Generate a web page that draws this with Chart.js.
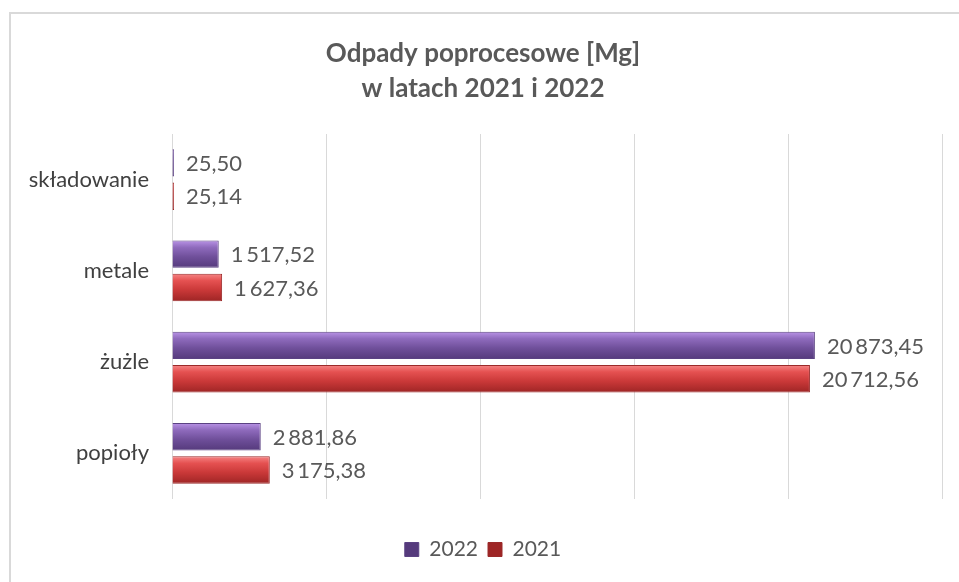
<!DOCTYPE html>
<html>
<head>
<meta charset="utf-8">
<script src="https://cdn.jsdelivr.net/npm/chart.js@4"></script>
<style>
  html, body { margin: 0; padding: 0; background: #fff; overflow: hidden; }
  #frame { position: absolute; left: 9px; top: 12px; width: 960px; height: 580px; border: 2px solid #d9d9d9; box-sizing: border-box; }
  #wrap { position: absolute; left: 0; top: 0; width: 959px; height: 582px; }
</style>
</head>
<body>
<div id="frame"></div>
<div id="wrap"><canvas id="wykres"></canvas></div>
<script>
// kategorie odpadow i wartosci [Mg]
const kategorie = ['składowanie', 'metale', 'żużle', 'popioły'];
const lata = ['2022', '2021'];
const wartosci2022 = [25.50, 1517.52, 20873.45, 2881.86];
const wartosci2021 = [25.14, 1627.36, 20712.56, 3175.38];
const osX = { min: 0, max: 25000, krok: 5000 };

const FONT = 'Lato, "Open Sans", sans-serif';

// formatowanie liczb: waska spacja jako separator tysiecy, przecinek dziesietny
function fmt(v) {
  const [c, d] = v.toFixed(2).split('.');
  return c.replace(/\B(?=(\d{3})+(?!\d))/g, '\u2009') + ',' + d;
}

// gradient "3D" dla slupka (gora jasniejsza, dol ciemniejszy)
function gradient(kolory, solid) {
  return (ctx) => {
    const el = ctx.element;
    if (!el || !el.height) return solid;
    const c = ctx.chart.ctx;
    const g = c.createLinearGradient(0, el.y - el.height / 2, 0, el.y + el.height / 2);
    g.addColorStop(0, kolory[0]);
    g.addColorStop(0.25, kolory[1]);
    g.addColorStop(0.6, kolory[2]);
    g.addColorStop(1, kolory[3]);
    return g;
  };
}

// etykiety z wartosciami po prawej stronie slupkow
const etykiety = {
  id: 'etykiety',
  afterDatasetsDraw(chart) {
    const c = chart.ctx;
    c.save();
    c.font = '22px ' + FONT;
    c.fillStyle = '#595959';
    c.textBaseline = 'middle';
    c.textAlign = 'left';
    chart.data.datasets.forEach((ds, i) => {
      chart.getDatasetMeta(i).data.forEach((bar, j) => {
        c.fillText(fmt(ds.data[j]), bar.x + 12, bar.y + 1);
      });
    });
    c.restore();
  }
};

const chart = new Chart(document.getElementById('wykres'), {
  type: 'bar',
  data: {
    labels: kategorie,
    datasets: [
      {
        label: lata[0],
        data: wartosci2022,
        backgroundColor: gradient(['#b993e6', '#8f6bbd', '#6f4f9a', '#553a7c'], '#7b5aa8'),
        borderColor: '#5b4283',
        borderWidth: 1,
        minBarLength: 2
      },
      {
        label: lata[1],
        data: wartosci2021,
        backgroundColor: gradient(['#f58585', '#e55151', '#c93838', '#9e2525'], '#d23f3f'),
        borderColor: '#9a2a2a',
        borderWidth: 1,
        minBarLength: 2
      }
    ]
  },
  options: {
    indexAxis: 'y',
    responsive: true,
    maintainAspectRatio: false,
    animation: false,
    categoryPercentage: 0.73,
    barPercentage: 0.82,
    layout: { padding: { left: 24, right: 17, top: 0, bottom: 12 } },
    scales: {
      x: {
        min: osX.min,
        max: osX.max,
        ticks: { display: false, stepSize: osX.krok },
        grid: { color: '#d9d9d9', lineWidth: 1, drawTicks: false },
        border: { display: false },
        afterFit(s) { s.height = 30; }
      },
      y: {
        ticks: { color: '#404040', font: { size: 22, family: FONT }, padding: 15 },
        grid: { display: false },
        border: { display: false },
        afterFit(s) { s.width = 148; }
      }
    },
    plugins: {
      title: {
        display: true,
        text: ['Odpady poprocesowe [Mg]', 'w latach 2021 i 2022'],
        color: '#595959',
        font: { size: 26, weight: 'bold', family: FONT, lineHeight: 1.346 },
        padding: { top: 36, bottom: 28 }
      },
      legend: {
        position: 'bottom',
        labels: {
          color: '#595959',
          font: { size: 21, family: FONT },
          boxWidth: 14,
          boxHeight: 14,
          padding: 10
        }
      },
      tooltip: { enabled: false }
    }
  },
  plugins: [etykiety]
});
// drugi przebieg, zeby gradienty znaly polozenie slupkow
chart.update('none');
</script>
</body>
</html>
